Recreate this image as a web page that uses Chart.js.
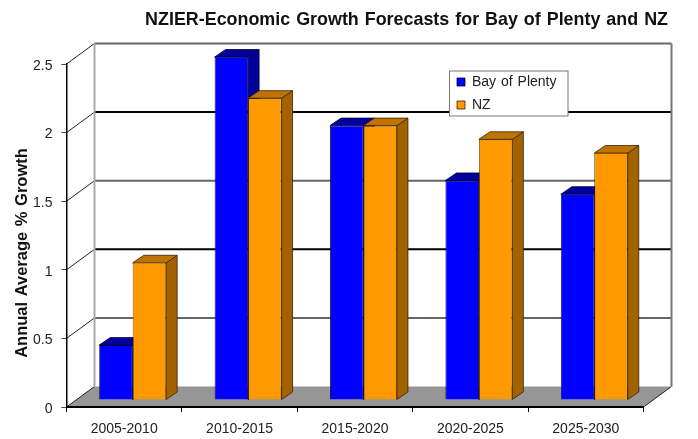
<!DOCTYPE html>
<html><head><meta charset="utf-8">
<style>html,body{margin:0;padding:0;background:#fff}#w{width:698px;height:439px;position:relative}</style>
<script src="https://cdn.jsdelivr.net/npm/chart.js@4"></script>
</head><body><div id="w"><canvas id="c" width="698" height="439"></canvas></div>
<script>
const categories = ['2005-2010','2010-2015','2015-2020','2020-2025','2025-2030'];
const bayOfPlenty = [0.4,2.5,2,1.6,1.5];
const nz = [1,2.2,2,1.9,1.8];
const FONT = '"Liberation Sans", Arial, sans-serif';
const WALL = {dx:28, dy:-20.5};      // wall depth relative to front axes
const BAR_SHIFT = {dx:8.5, dy:-7};   // bars stand inside the floor
const BAR_DEPTH = {dx:11, dy:-7.5};
const SIDE = ['#000099','#A36200'];
const TOP = ['#00009C','#C07300'];
const EDGE = ['#000033','#3a2300'];

function poly(ctx, pts, fill, stroke){
  ctx.beginPath();
  pts.forEach((p,i)=> i?ctx.lineTo(p[0],p[1]):ctx.moveTo(p[0],p[1]));
  ctx.closePath();
  if(fill){ctx.fillStyle=fill;ctx.fill();}
  if(stroke){ctx.strokeStyle=stroke;ctx.lineWidth=0.8;ctx.stroke();}
}
const threeD = {
  id:'threeD',
  afterLayout(chart){
    const l = chart.legend;
    const w = l.width, h = l.height;
    l.left = 448; l.top = 66; l.right = l.left + w; l.bottom = l.top + h;
    const s = chart.scales.y;
    if(!s._shifted){
      s._shifted = true;
      const orig = s.drawTitle;
      s.drawTitle = function(){
        chart.ctx.save();chart.ctx.translate(0.8,17.5);orig.call(this);chart.ctx.restore();
      };
    }
  },
  beforeDraw(chart){
    const {ctx, scales:{x,y}} = chart;
    ctx.wordSpacing = '1px';
    const L = x.left, R = x.right, B = y.getPixelForValue(0), T = y.getPixelForValue(2.5);
    ctx.save();
    // floor
    poly(ctx,[[L,B],[L+WALL.dx,B+WALL.dy],[R+WALL.dx,B+WALL.dy],[R,B]],'#969696');
    // wall grid and connecting diagonals
    y.ticks.forEach((t,i)=>{
      const py = y.getPixelForValue(t.value);
      ctx.beginPath();ctx.moveTo(L,py);ctx.lineTo(L+WALL.dx,py+WALL.dy);
      ctx.strokeStyle = '#222';ctx.lineWidth=1;ctx.stroke();
      if(t.value>0){
        ctx.beginPath();ctx.moveTo(L+WALL.dx,py+WALL.dy);ctx.lineTo(R+WALL.dx,py+WALL.dy);
        ctx.strokeStyle = (t.value===2||t.value===1)?'#000':'#666';
        ctx.lineWidth=2;ctx.stroke();
      }
    });
    // diagonal of the floor at right
    ctx.beginPath();ctx.moveTo(R,B);ctx.lineTo(R+WALL.dx,B+WALL.dy);ctx.strokeStyle='#222';ctx.lineWidth=1;ctx.stroke();
    // left and right wall edges
    ctx.lineWidth=2;
    ctx.strokeStyle='#aaa';ctx.beginPath();ctx.moveTo(L+WALL.dx,T+WALL.dy);ctx.lineTo(L+WALL.dx,B+WALL.dy);ctx.stroke();
    ctx.strokeStyle='#777';ctx.beginPath();ctx.moveTo(R+WALL.dx,T+WALL.dy);ctx.lineTo(R+WALL.dx,B+WALL.dy);ctx.stroke();
    // legend panel
    ctx.fillStyle='#fff';ctx.fillRect(449.5,71,118.5,45);
    ctx.strokeStyle='#777';ctx.lineWidth=1;ctx.strokeRect(449.5,71,118.5,45);
    ctx.restore();
  },
  beforeDatasetsDraw(chart){
    const ctx = chart.ctx;
    ctx.save();
    ctx.translate(BAR_SHIFT.dx,BAR_SHIFT.dy);
    [0,1].forEach(d=>{
      chart.getDatasetMeta(d).data.forEach(el=>{
        const {x,y,base,width} = el.getProps(['x','y','base','width'],true);
        const l=x-width/2, r=x+width/2, a=BAR_DEPTH.dx, b=BAR_DEPTH.dy;
        poly(ctx,[[r,y],[r+a,y+b],[r+a,base+b],[r,base]],SIDE[d],EDGE[d]);
        poly(ctx,[[l,y],[l+a,y+b],[r+a,y+b],[r,y]],TOP[d],EDGE[d]);
      });
    });
    ctx.restore();
  },
  beforeDatasetDraw(chart){
    chart.ctx.save();
    chart.ctx.translate(BAR_SHIFT.dx,BAR_SHIFT.dy);
  },
  afterDatasetDraw(chart){ chart.ctx.restore(); }
};
new Chart(document.getElementById('c'),{
  type:'bar',
  data:{labels:categories,datasets:[
    {label:'Bay of Plenty',data:bayOfPlenty,backgroundColor:'#0000FF',borderColor:'#000033',borderWidth:0.8,clip:false},
    {label:'NZ',data:nz,backgroundColor:'#FF9900',borderColor:'#3a2300',borderWidth:0.8,clip:false}
  ]},
  plugins:[threeD],
  options:{
    responsive:false,animation:false,
    layout:{autoPadding:false,padding:{left:0,right:30,top:0,bottom:0}},
    datasets:{bar:{categoryPercentage:0.58,barPercentage:1}},
    plugins:{
      tooltip:{enabled:false},
      title:{display:true,text:'NZIER-Economic Growth Forecasts for Bay of Plenty and NZ',align:'end',
        color:'#111',font:{family:FONT,size:17.9,weight:'bold',lineHeight:1.2},padding:{top:9,bottom:33.52}},
      legend:{position:'chartArea',align:'start',
        labels:{boxWidth:8,boxHeight:8,padding:9,color:'#222',font:{family:FONT,size:14}}}
    },
    scales:{
      x:{
        afterFit(s){s.height=32;},
        grid:{offset:true,drawOnChartArea:false,drawTicks:true,tickLength:5,color:'#000'},
        border:{color:'#000',width:2},
        ticks:{color:'#222',font:{family:FONT,size:14},padding:9,maxRotation:0}
      },
      y:{
        min:0,max:2.5,
        afterFit(s){s.width=66.5;},
        grid:{drawOnChartArea:false,drawTicks:true,tickLength:5,color:'#444'},
        border:{color:'#000',width:1.5},
        ticks:{stepSize:0.5,color:'#222',font:{family:FONT,size:14},padding:9,labelOffset:2,callback:v=>String(v)},
        title:{display:true,text:'Annual Average % Growth',color:'#111',
          font:{family:FONT,size:16.5,weight:'bold'},padding:{top:11.4,bottom:0}}
      },
      spacer:{
        axis:'y',position:'right',display:true,
        afterFit(s){s.width=24.5;},
        grid:{display:false},border:{display:false},ticks:{display:false}
      }
    }
  }
});
</script></body></html>
